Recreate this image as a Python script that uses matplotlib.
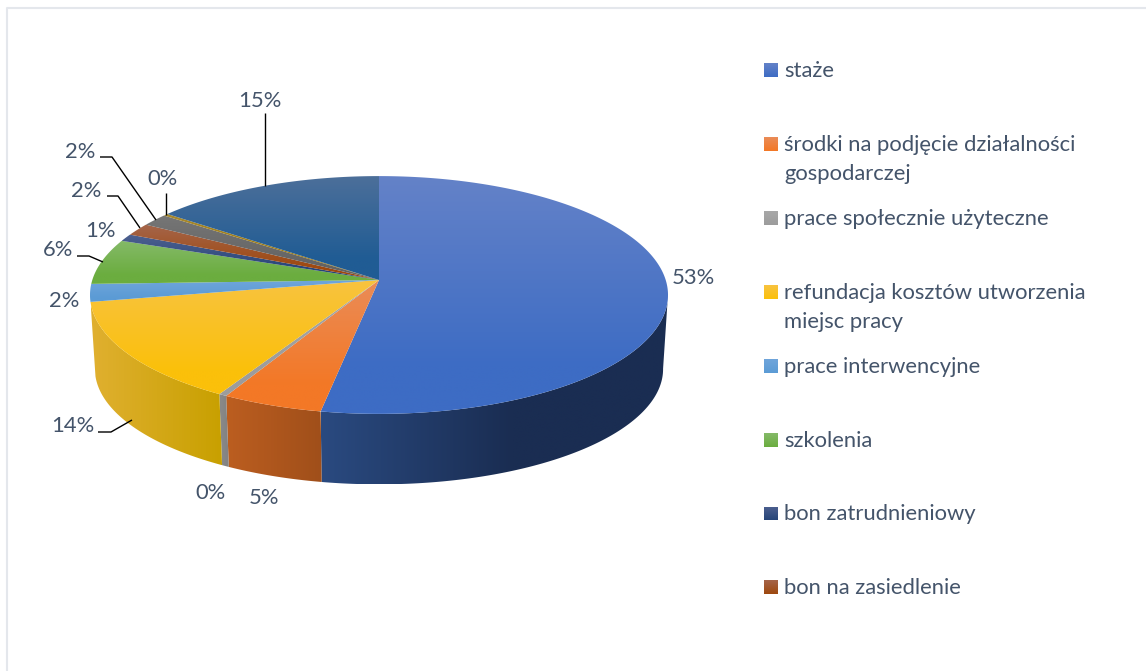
import numpy as np
import matplotlib
matplotlib.use("Agg")
import matplotlib.pyplot as plt
from matplotlib.patches import Polygon
from matplotlib.colors import to_rgb

# ---- data (slices clockwise from 12 o'clock) ----
slice_values = [52.8, 5.0, 0.4, 13.8, 2.4, 6.2, 1.0, 1.7, 1.7, 0.3, 14.6]
top_light = ["#6482C8", "#EA8C58", "#A8A8A8", "#F8C340", "#6FA5DB", "#85BA69",
             "#4E6190", "#A5654A", "#767676", "#A88A30", "#4C6F9A"]
top_base = ["#3D6CC4", "#F37826", "#9C9C9C", "#FBC00A", "#5B9BD5", "#6BAD3F",
            "#264478", "#9E480E", "#636363", "#997300", "#205C94"]
wall_left = ["#2A4A80", "#BC5E20", "#8A8A8A", "#E0B030", "#5B9BD5", "#6BAD3F",
             "#264478", "#9E480E", "#636363", "#997300", "#205C94"]
wall_right = ["#1A2D52", "#A04F1A", "#828282", "#C8A000", "#5B9BD5", "#6BAD3F",
              "#264478", "#9E480E", "#636363", "#997300", "#205C94"]
wall_stop = [0.55, 1, 1, 1, 1, 1, 1, 1, 1, 1, 1]

legend_labels = ["staże", "środki na podjęcie działalności\ngospodarczej",
                 "prace społecznie użyteczne",
                 "refundacja kosztów utworzenia\nmiejsc pracy",
                 "prace interwencyjne", "szkolenia", "bon zatrudnieniowy",
                 "bon na zasiedlenie"]
legend_y = [70, 144, 218, 292, 366, 440, 513.5, 587]

# percent label centre + leader polyline, per slice
label_pos = [(693, 278), (264, 498), (211, 493), (73, 426), (64, 301), (58, 250),
             (100, 231), (86, 191), (80, 152), (163, 179), (260, 101)]
leaders = {3: [(98, 432), (111, 432), (132, 420)],
           5: [(77, 256), (89, 256), (103, 262)],
           7: [(107, 196), (118, 196), (140, 228)],
           8: [(100, 157), (112, 157), (156, 220)],
           9: [(166, 193), (166, 215)],
           10: [(265, 113), (265, 186)]}

TXT = "#44546A"
FONT = "Lato"
FS = 15.8

# perspective projection of the pie disc
CX, CY, RA, RB, K = 379, 280, 286.7, 117.0, 0.126
DROP, SX, SY = 74.5, 0.983, 0.97
WALL_FROM, WALL_TO = np.radians(97), np.radians(259.2)


def rim(theta):
    u, v = np.sin(theta), np.cos(theta)
    w = 1 + K * v
    return CX + RA * u / w, CY - RB * v / w


def rim_low(theta):
    x, y = rim(theta)
    return CX + (x - CX) * SX, CY + (y - CY) * SY + DROP


fig = plt.figure(figsize=(11.46, 6.71), dpi=100, facecolor="white")
ax = fig.add_axes([0, 0, 1, 1])
ax.set_xlim(0, 1146)
ax.set_ylim(671, 0)
ax.axis("off")


def grad_fill(pts, c0, c1, vertical, stop=1.0):
    pts = np.asarray(pts)
    x0, y0 = pts.min(axis=0)
    x1, y1 = pts.max(axis=0)
    t = np.clip(np.linspace(0, 1, 256) / stop, 0, 1)
    a, b = np.array(to_rgb(c0)), np.array(to_rgb(c1))
    ramp = a[None, :] * (1 - t[:, None]) + b[None, :] * t[:, None]
    img = ramp[:, None, :] if vertical else ramp[None, :, :]
    patch = Polygon(pts, closed=True, facecolor="none", edgecolor="none",
                    zorder=3)
    ax.add_patch(patch)
    im = ax.imshow(img, extent=(x0, x1, y1, y0), origin="upper", aspect="auto",
                   interpolation="bilinear", zorder=2)
    im.set_clip_path(patch)


fracs = np.cumsum([0] + slice_values) / sum(slice_values)
angles = 2 * np.pi * fracs

# walls first, the top disc hides what lies behind
for i in range(len(slice_values)):
    lo = max(angles[i], WALL_FROM)
    hi = min(angles[i + 1], WALL_TO)
    if hi <= lo:
        continue
    th = np.linspace(lo, hi, 120)
    tx, ty = rim(th)
    bx, by = rim_low(th)
    pts = np.r_[np.c_[tx, ty], np.c_[bx, by][::-1]]
    grad_fill(pts, wall_left[i], wall_right[i], False, wall_stop[i])

# top faces
for i in range(len(slice_values)):
    th = np.linspace(angles[i], angles[i + 1], max(int(slice_values[i] * 8), 6))
    tx, ty = rim(th)
    pts = np.r_[[[CX, CY]], np.c_[tx, ty]]
    grad_fill(pts, top_light[i], top_base[i], True, 0.8)

# percent labels and leaders
for i, (x, y) in enumerate(label_pos):
    ax.text(x, y, f"{round(slice_values[i])}%", ha="center", va="center",
            color=TXT, family=FONT, fontsize=FS, zorder=6)
for pts in leaders.values():
    p = np.array(pts)
    ax.plot(p[:, 0], p[:, 1], color="black", lw=1.0, zorder=5,
            solid_capstyle="butt")

# legend
for i, (lab, y) in enumerate(zip(legend_labels, legend_y)):
    grad_fill([(764, y - 7), (778, y - 7), (778, y + 7), (764, y + 7)],
              top_light[i], top_base[i], True)
    for j, line in enumerate(lab.split("\n")):
        ax.text(784, y + 1 + j * 29.5, line, ha="left", va="center", color=TXT,
                family=FONT, fontsize=FS, zorder=6)

# outer frame
ax.plot([7, 7, 1146], [671, 8, 8], color="#E4E7EC", lw=1.5, zorder=1)
ax.set_xlim(0, 1146)
ax.set_ylim(671, 0)

fig.savefig("out.png", dpi=100, facecolor="white")
